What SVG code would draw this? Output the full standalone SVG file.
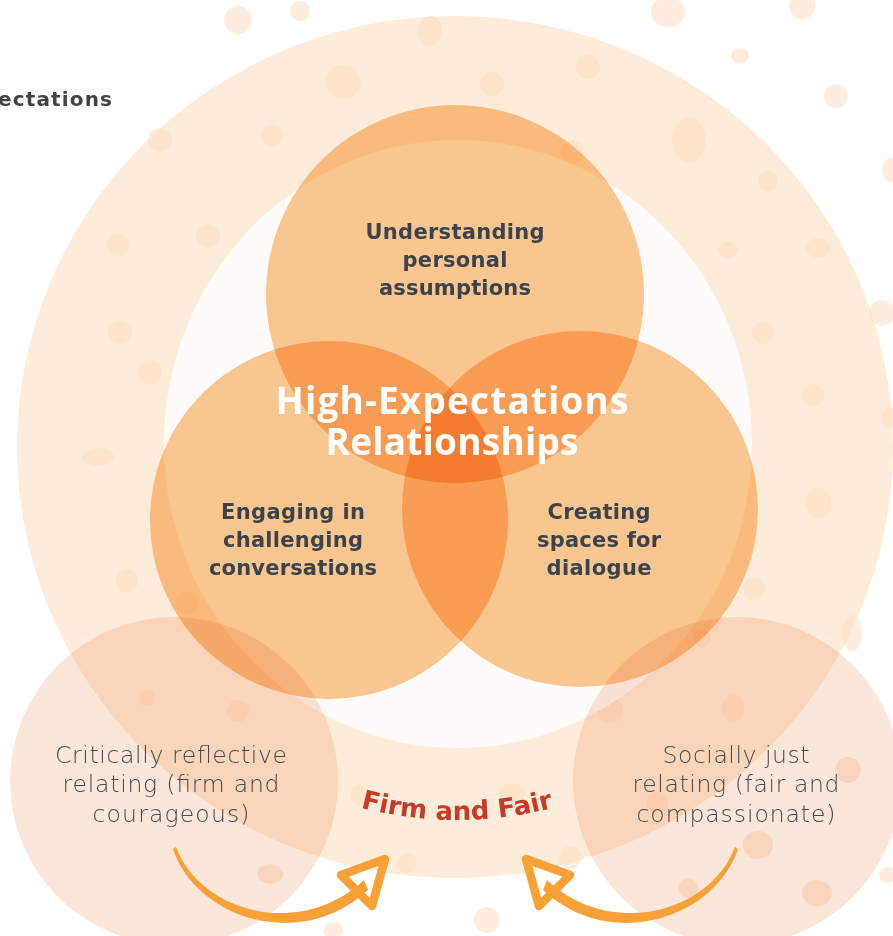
<svg xmlns="http://www.w3.org/2000/svg" width="893" height="936" viewBox="0 0 893 936">
<style>
.dot{fill:#FDDFC3;opacity:0.55}
.mul{mix-blend-mode:multiply}
.main{fill:#FCC992}
.side{fill:#FBE6DA}
.lbl{font-family:"DejaVu Sans","Open Sans",sans-serif;font-weight:700;font-size:21px;fill:#3D4349;text-anchor:middle}
.reg{font-family:"DejaVu Sans","Liberation Sans",sans-serif;font-weight:300;font-size:23.5px;fill:#45494D;text-anchor:middle}
.title{font-family:"Open Sans","Liberation Sans",sans-serif;font-weight:700;font-size:37px;fill:#FFFFFF;text-anchor:middle}
.arrow{fill:#F8A136}
.head{fill:none;stroke:#F8A136;stroke-width:8.5;stroke-linejoin:round;stroke-linecap:round}
</style>
<defs>
<path id="arc" d="M 74,437 A 383 383 0 0 0 840,437"/>
</defs>
<rect width="893" height="936" fill="#FFFFFF"/>
<g id="ring">
<ellipse cx="455" cy="447" rx="438" ry="431" fill="#FEECDA"/>
</g>
<g id="dots">
<ellipse class="dot" cx="238" cy="20" rx="14" ry="14"/>
<ellipse class="dot" cx="300" cy="11" rx="10" ry="10"/>
<ellipse class="dot" cx="668" cy="12" rx="17" ry="15"/>
<ellipse class="dot" cx="802" cy="6" rx="13" ry="13"/>
<ellipse class="dot" cx="740" cy="56" rx="9" ry="8"/>
<ellipse class="dot" cx="836" cy="96" rx="12" ry="12"/>
<ellipse class="dot" cx="892" cy="170" rx="10" ry="12"/>
<ellipse class="dot" cx="430" cy="31" rx="12" ry="15"/>
<ellipse class="dot" cx="343" cy="82" rx="18" ry="17"/>
<ellipse class="dot" cx="492" cy="84" rx="12" ry="12"/>
<ellipse class="dot" cx="588" cy="67" rx="12" ry="12"/>
<ellipse class="dot" cx="272" cy="135" rx="11" ry="11"/>
<ellipse class="dot" cx="572" cy="152" rx="12" ry="12"/>
<ellipse class="dot" cx="689" cy="140" rx="17" ry="23"/>
<ellipse class="dot" cx="768" cy="181" rx="10" ry="10"/>
<ellipse class="dot" cx="160" cy="140" rx="12" ry="12"/>
<ellipse class="dot" cx="118" cy="245" rx="11" ry="11"/>
<ellipse class="dot" cx="208" cy="236" rx="12" ry="12"/>
<ellipse class="dot" cx="120" cy="333" rx="12" ry="11"/>
<ellipse class="dot" cx="150" cy="372" rx="12" ry="12"/>
<ellipse class="dot" cx="98" cy="457" rx="16" ry="9"/>
<ellipse class="dot" cx="127" cy="581" rx="11" ry="12"/>
<ellipse class="dot" cx="187" cy="603" rx="12" ry="12"/>
<ellipse class="dot" cx="728" cy="250" rx="10" ry="8"/>
<ellipse class="dot" cx="818" cy="248" rx="12" ry="10"/>
<ellipse class="dot" cx="882" cy="313" rx="13" ry="13"/>
<ellipse class="dot" cx="763" cy="333" rx="11" ry="11"/>
<ellipse class="dot" cx="813" cy="395" rx="11" ry="11"/>
<ellipse class="dot" cx="890" cy="417" rx="8" ry="10"/>
<ellipse class="dot" cx="818" cy="503" rx="13" ry="15"/>
<ellipse class="dot" cx="754" cy="589" rx="11" ry="11"/>
<ellipse class="dot" cx="852" cy="633" rx="10" ry="18"/>
<ellipse class="dot" cx="147" cy="698" rx="8" ry="8"/>
<ellipse class="dot" cx="238" cy="711" rx="11" ry="11"/>
<ellipse class="dot" cx="270" cy="874" rx="13" ry="10"/>
<ellipse class="dot" cx="407" cy="863" rx="10" ry="10"/>
<ellipse class="dot" cx="487" cy="920" rx="13" ry="13"/>
<ellipse class="dot" cx="333" cy="930" rx="10" ry="8"/>
<ellipse class="dot" cx="570" cy="857" rx="11" ry="11"/>
<ellipse class="dot" cx="360" cy="795" rx="10" ry="10"/>
<ellipse class="dot" cx="512" cy="793" rx="13" ry="10"/>
<ellipse class="dot" cx="702" cy="638" rx="9" ry="9"/>
<ellipse class="dot" cx="610" cy="710" rx="13" ry="13"/>
<ellipse class="dot" cx="733" cy="708" rx="11" ry="13"/>
<ellipse class="dot" cx="848" cy="770" rx="13" ry="13"/>
<ellipse class="dot" cx="657" cy="803" rx="11" ry="11"/>
<ellipse class="dot" cx="758" cy="845" rx="15" ry="14"/>
<ellipse class="dot" cx="688" cy="888" rx="10" ry="10"/>
<ellipse class="dot" cx="817" cy="893" rx="15" ry="13"/>
<ellipse class="dot" cx="887" cy="875" rx="8" ry="8"/>
</g>
<g id="inner">
<ellipse cx="458" cy="444" rx="294" ry="304" fill="#FDFBF9"/>
</g>
<text x="112" y="106" text-anchor="end" font-family="'DejaVu Sans','Open Sans',sans-serif" font-weight="700" font-size="20" fill="#3F4449" textLength="114">ectations</text>
<g id="node-critical">
<circle class="mul side" cx="174" cy="781" r="164"/>
<text class="reg" x="171" y="763" textLength="232">Critically reflective</text>
<text class="reg" x="171" y="792" textLength="217">relating (firm and</text>
<text class="reg" x="171" y="822" textLength="157">courageous)</text>
</g>
<g id="node-social">
<circle class="mul side" cx="737" cy="781" r="164"/>
<text class="reg" x="736" y="763" textLength="147">Socially just</text>
<text class="reg" x="736" y="792" textLength="207">relating (fair and</text>
<text class="reg" x="736" y="822" textLength="199">compassionate)</text>
</g>
<g id="node-understanding">
<circle class="mul main" cx="455" cy="294" r="189"/>
</g>
<g id="node-engaging">
<circle class="mul main" cx="329" cy="520" r="179"/>
</g>
<g id="node-creating">
<circle class="mul main" cx="580" cy="509" r="178"/>
</g>
<g id="labels">
<text class="lbl" x="455" y="239" textLength="179">Understanding</text>
<text class="lbl" x="455" y="267" textLength="105">personal</text>
<text class="lbl" x="455" y="295" textLength="152">assumptions</text>
<text class="lbl" x="293" y="519" textLength="144">Engaging in</text>
<text class="lbl" x="293" y="547" textLength="140">challenging</text>
<text class="lbl" x="293" y="575" textLength="168">conversations</text>
<text class="lbl" x="599" y="519" textLength="103">Creating</text>
<text class="lbl" x="599" y="547" textLength="124">spaces for</text>
<text class="lbl" x="599" y="575" textLength="105">dialogue</text>
<text class="title" x="452" y="414" textLength="353">High-Expectations</text>
<text class="title" x="452" y="455" textLength="253">Relationships</text>
</g>
<g id="firm-fair">
<text font-family="'DejaVu Sans','Open Sans',sans-serif" font-weight="700" font-size="26" fill="#C83A27"><textPath href="#arc" startOffset="50%" text-anchor="middle">Firm and Fair</textPath></text>
</g>
<g id="connectors">
<g id="arrow-left">
<path class="arrow" d="M176,847 C200,912 300,940 364,880 L368,890 C300,953 196,918 173,849 Z"/>
<polygon class="head" points="341,875 385,859 372,906"/>
</g>
<g id="arrow-right" transform="translate(911,0) scale(-1,1)">
<path class="arrow" d="M176,847 C200,912 300,940 364,880 L368,890 C300,953 196,918 173,849 Z"/>
<polygon class="head" points="341,875 385,859 372,906"/>
</g>
</g>
</svg>
